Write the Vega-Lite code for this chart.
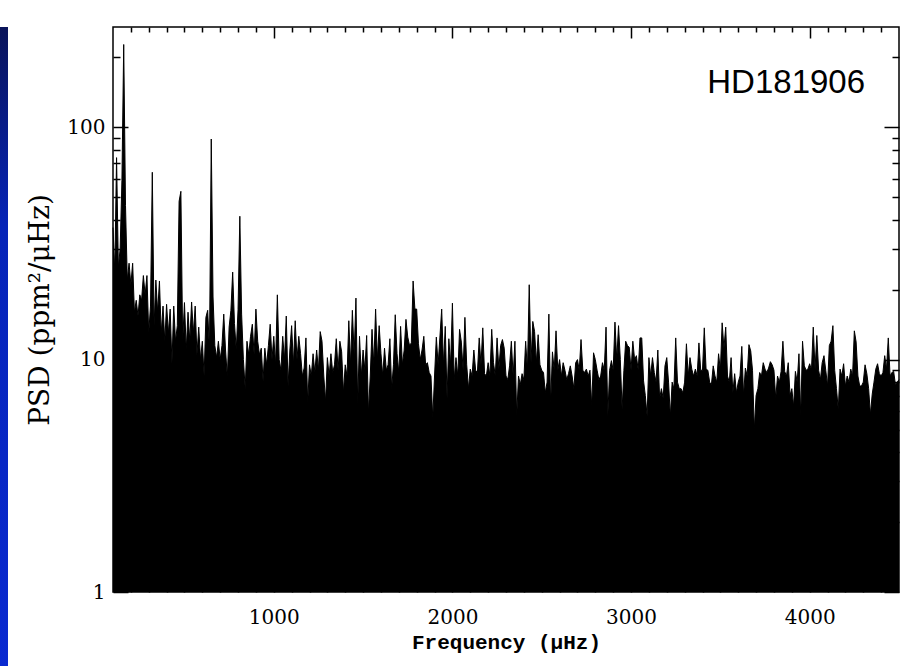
{
"$schema": "https://vega.github.io/schema/vega-lite/v6.json",
"padding": 0,
"background": "white",
"spacing": 18,
"bounds": "full",
"config": {"view": {"stroke": "black", "strokeWidth": 1.5}, "axis": {"grid": false, "domain": false, "tickColor": "black", "tickWidth": 1.5, "labelColor": "black", "titleColor": "black", "labelFont": "DejaVu Serif", "titleFont": "DejaVu Serif", "labelFontSize": 20, "titleFontSize": 20, "titleFontWeight": "normal"}},
"datasets": {"psd": [
{"f":100,"p":37},{"f":110,"p":24},{"f":120,"p":74},{"f":130,"p":25},{"f":140,"p":30},{"f":150,"p":59},{"f":160,"p":227},{"f":170,"p":46},{"f":180,"p":22},{"f":190,"p":26},
{"f":200,"p":21},{"f":210,"p":26},{"f":220,"p":16},{"f":230,"p":18},{"f":240,"p":15.4},{"f":250,"p":19},{"f":260,"p":18},{"f":270,"p":23},{"f":280,"p":19},{"f":290,"p":23},
{"f":300,"p":13},{"f":310,"p":17},{"f":320,"p":64},{"f":330,"p":14},{"f":340,"p":22},{"f":350,"p":16},{"f":360,"p":21.8},{"f":370,"p":13},{"f":380,"p":17},{"f":390,"p":12},
{"f":400,"p":17.3},{"f":410,"p":13},{"f":420,"p":16.5},{"f":430,"p":9.6},{"f":440,"p":17},{"f":450,"p":12},{"f":460,"p":14},{"f":470,"p":48},{"f":480,"p":53},{"f":490,"p":12},
{"f":500,"p":17.6},{"f":510,"p":11},{"f":520,"p":16},{"f":530,"p":12},{"f":540,"p":17.7},{"f":550,"p":13},{"f":560,"p":17},{"f":570,"p":10.5},{"f":580,"p":13.8},{"f":590,"p":10},
{"f":600,"p":12},{"f":610,"p":8.5},{"f":620,"p":15.2},{"f":630,"p":16.3},{"f":640,"p":11},{"f":650,"p":89},{"f":660,"p":18.6},{"f":670,"p":11.5},{"f":680,"p":10.2},{"f":690,"p":12},
{"f":700,"p":10},{"f":710,"p":11.5},{"f":720,"p":15.7},{"f":730,"p":11},{"f":740,"p":8.4},{"f":750,"p":13.8},{"f":760,"p":16.3},{"f":770,"p":23.8},{"f":780,"p":14.3},{"f":790,"p":11},
{"f":800,"p":16.4},{"f":810,"p":41.4},{"f":820,"p":15.7},{"f":830,"p":10},{"f":840,"p":7.5},{"f":850,"p":12},{"f":860,"p":10.5},{"f":870,"p":12.6},{"f":880,"p":14.2},{"f":890,"p":10.5},
{"f":900,"p":16.5},{"f":910,"p":12},{"f":920,"p":10.5},{"f":930,"p":11.2},{"f":940,"p":8.1},{"f":950,"p":11.2},{"f":960,"p":9.5},{"f":970,"p":11.5},{"f":980,"p":14.2},{"f":990,"p":10},
{"f":1000,"p":12.6},{"f":1010,"p":9.5},{"f":1020,"p":19},{"f":1030,"p":10},{"f":1040,"p":9},{"f":1050,"p":12.6},{"f":1060,"p":10},{"f":1070,"p":15.4},{"f":1080,"p":7.7},{"f":1090,"p":11},
{"f":1100,"p":14},{"f":1110,"p":9.5},{"f":1120,"p":14.7},{"f":1130,"p":10},{"f":1140,"p":12.6},{"f":1150,"p":10.6},{"f":1160,"p":8.5},{"f":1170,"p":9.2},{"f":1180,"p":12.4},{"f":1190,"p":6.5},
{"f":1200,"p":9.5},{"f":1210,"p":8.5},{"f":1220,"p":10.6},{"f":1230,"p":8.8},{"f":1240,"p":11},{"f":1250,"p":9},{"f":1260,"p":13.2},{"f":1270,"p":12},{"f":1280,"p":8.5},{"f":1290,"p":6.6},
{"f":1300,"p":10.2},{"f":1310,"p":8.5},{"f":1320,"p":10.6},{"f":1330,"p":8.8},{"f":1340,"p":9.5},{"f":1350,"p":12.3},{"f":1360,"p":9},{"f":1370,"p":12},{"f":1380,"p":10.8},{"f":1390,"p":7.2},
{"f":1400,"p":9.5},{"f":1410,"p":8.5},{"f":1420,"p":14.7},{"f":1430,"p":9.5},{"f":1440,"p":16.3},{"f":1450,"p":10.5},{"f":1460,"p":18.4},{"f":1470,"p":6.4},{"f":1480,"p":12.6},{"f":1490,"p":8.5},
{"f":1500,"p":11},{"f":1510,"p":9},{"f":1520,"p":12.7},{"f":1530,"p":5.9},{"f":1540,"p":8.5},{"f":1550,"p":13.5},{"f":1560,"p":9.5},{"f":1570,"p":16.5},{"f":1580,"p":10},{"f":1590,"p":14},
{"f":1600,"p":10.6},{"f":1610,"p":8.5},{"f":1620,"p":11.2},{"f":1630,"p":9},{"f":1640,"p":9.5},{"f":1650,"p":12.3},{"f":1660,"p":7.5},{"f":1670,"p":9.5},{"f":1680,"p":15.6},{"f":1690,"p":10.6},
{"f":1700,"p":8.8},{"f":1710,"p":13.9},{"f":1720,"p":9.5},{"f":1730,"p":11},{"f":1740,"p":14.9},{"f":1750,"p":12.5},{"f":1760,"p":11.5},{"f":1770,"p":11.8},{"f":1780,"p":21.8},{"f":1790,"p":16.5},
{"f":1800,"p":16.5},{"f":1810,"p":11.7},{"f":1820,"p":10},{"f":1830,"p":11},{"f":1840,"p":12.6},{"f":1850,"p":9.5},{"f":1860,"p":9.7},{"f":1870,"p":8.8},{"f":1880,"p":8.5},{"f":1890,"p":5.6},
{"f":1900,"p":8.5},{"f":1910,"p":12.5},{"f":1920,"p":9.5},{"f":1930,"p":12.5},{"f":1940,"p":16.5},{"f":1950,"p":9.5},{"f":1960,"p":13.9},{"f":1970,"p":6.8},{"f":1980,"p":12.3},{"f":1990,"p":9.5},
{"f":2000,"p":17.5},{"f":2010,"p":8.2},{"f":2020,"p":10.2},{"f":2030,"p":8.5},{"f":2040,"p":13.5},{"f":2050,"p":11.9},{"f":2060,"p":9},{"f":2070,"p":15.2},{"f":2080,"p":9.5},{"f":2090,"p":7.5},
{"f":2100,"p":9.1},{"f":2110,"p":8.5},{"f":2120,"p":11},{"f":2130,"p":9},{"f":2140,"p":8.8},{"f":2150,"p":12.4},{"f":2160,"p":9.5},{"f":2170,"p":13.7},{"f":2180,"p":8.7},{"f":2190,"p":8.5},
{"f":2200,"p":9.7},{"f":2210,"p":8.5},{"f":2220,"p":13.5},{"f":2230,"p":9.7},{"f":2240,"p":8.5},{"f":2250,"p":12.4},{"f":2260,"p":9.1},{"f":2270,"p":11.5},{"f":2280,"p":12.2},{"f":2290,"p":11.2},
{"f":2300,"p":8.5},{"f":2310,"p":8.2},{"f":2320,"p":9.4},{"f":2330,"p":12},{"f":2340,"p":8.5},{"f":2350,"p":12},{"f":2360,"p":5.7},{"f":2370,"p":8.5},{"f":2380,"p":7.8},{"f":2390,"p":8.7},
{"f":2400,"p":8.2},{"f":2410,"p":12},{"f":2420,"p":9},{"f":2430,"p":21},{"f":2440,"p":9.7},{"f":2450,"p":14.6},{"f":2460,"p":13.2},{"f":2470,"p":9.7},{"f":2480,"p":12.8},{"f":2490,"p":9.5},
{"f":2500,"p":9},{"f":2510,"p":8.8},{"f":2520,"p":7.2},{"f":2530,"p":8},{"f":2540,"p":15.7},{"f":2550,"p":6.4},{"f":2560,"p":10.8},{"f":2570,"p":9},{"f":2580,"p":13.3},{"f":2590,"p":9},
{"f":2600,"p":10},{"f":2610,"p":8.5},{"f":2620,"p":9.7},{"f":2630,"p":9},{"f":2640,"p":8.2},{"f":2650,"p":8.7},{"f":2660,"p":9.4},{"f":2670,"p":8.5},{"f":2680,"p":7.5},{"f":2690,"p":9.7},
{"f":2700,"p":10},{"f":2710,"p":9},{"f":2720,"p":12.2},{"f":2730,"p":9},{"f":2740,"p":8.8},{"f":2750,"p":9.1},{"f":2760,"p":8.5},{"f":2770,"p":9},{"f":2780,"p":6.3},{"f":2790,"p":10.7},
{"f":2800,"p":10},{"f":2810,"p":9},{"f":2820,"p":8.2},{"f":2830,"p":8.5},{"f":2840,"p":9.7},{"f":2850,"p":9},{"f":2860,"p":13.8},{"f":2870,"p":5.7},{"f":2880,"p":9},{"f":2890,"p":9.9},
{"f":2900,"p":9},{"f":2910,"p":14.5},{"f":2920,"p":10},{"f":2930,"p":14},{"f":2940,"p":10},{"f":2950,"p":6.1},{"f":2960,"p":9},{"f":2970,"p":12},{"f":2980,"p":11.5},{"f":2990,"p":11.3},
{"f":3000,"p":9},{"f":3010,"p":12},{"f":3020,"p":10},{"f":3030,"p":10.4},{"f":3040,"p":9},{"f":3050,"p":12.4},{"f":3060,"p":12.4},{"f":3070,"p":8.1},{"f":3080,"p":7},{"f":3090,"p":5.7},
{"f":3100,"p":10.2},{"f":3110,"p":8.5},{"f":3120,"p":10.2},{"f":3130,"p":8.8},{"f":3140,"p":8},{"f":3150,"p":11},{"f":3160,"p":6.8},{"f":3170,"p":7.5},{"f":3180,"p":6.8},{"f":3190,"p":9.4},
{"f":3200,"p":10.2},{"f":3210,"p":8},{"f":3220,"p":5.7},{"f":3230,"p":8},{"f":3240,"p":7.5},{"f":3250,"p":12.4},{"f":3260,"p":8},{"f":3270,"p":7.5},{"f":3280,"p":7.5},{"f":3290,"p":7.2},
{"f":3300,"p":8},{"f":3310,"p":11.7},{"f":3320,"p":8.5},{"f":3330,"p":10.2},{"f":3340,"p":9.1},{"f":3350,"p":8.5},{"f":3360,"p":9.1},{"f":3370,"p":8.5},{"f":3380,"p":11.8},{"f":3390,"p":9},
{"f":3400,"p":9},{"f":3410,"p":13.7},{"f":3420,"p":9.1},{"f":3430,"p":9},{"f":3440,"p":8},{"f":3450,"p":7.8},{"f":3460,"p":9.4},{"f":3470,"p":8.5},{"f":3480,"p":8},{"f":3490,"p":10.6},
{"f":3500,"p":9},{"f":3510,"p":14.4},{"f":3520,"p":11.2},{"f":3530,"p":13.8},{"f":3540,"p":8.5},{"f":3550,"p":8},{"f":3560,"p":10.2},{"f":3570,"p":7.2},{"f":3580,"p":8.7},{"f":3590,"p":7.2},
{"f":3600,"p":8},{"f":3610,"p":8.5},{"f":3620,"p":11.4},{"f":3630,"p":7},{"f":3640,"p":9.2},{"f":3650,"p":8.5},{"f":3660,"p":11.6},{"f":3670,"p":10.9},{"f":3680,"p":9},{"f":3690,"p":5},
{"f":3700,"p":7},{"f":3710,"p":7.5},{"f":3720,"p":8.8},{"f":3730,"p":8.5},{"f":3740,"p":9.7},{"f":3750,"p":9.1},{"f":3760,"p":8.8},{"f":3770,"p":9.2},{"f":3780,"p":9.8},{"f":3790,"p":9.5},
{"f":3800,"p":9},{"f":3810,"p":6.8},{"f":3820,"p":8.5},{"f":3830,"p":8},{"f":3840,"p":8.9},{"f":3850,"p":12},{"f":3860,"p":8.9},{"f":3870,"p":8.5},{"f":3880,"p":9.7},{"f":3890,"p":7},
{"f":3900,"p":7.5},{"f":3910,"p":6.3},{"f":3920,"p":8.9},{"f":3930,"p":8},{"f":3940,"p":10.6},{"f":3950,"p":5.7},{"f":3960,"p":12},{"f":3970,"p":9.4},{"f":3980,"p":9},{"f":3990,"p":9.1},
{"f":4000,"p":9.6},{"f":4010,"p":9},{"f":4020,"p":13.8},{"f":4030,"p":9.1},{"f":4040,"p":12.7},{"f":4050,"p":9},{"f":4060,"p":8.2},{"f":4070,"p":9.7},{"f":4080,"p":10.4},{"f":4090,"p":9},
{"f":4100,"p":7.7},{"f":4110,"p":11.5},{"f":4120,"p":12},{"f":4130,"p":14},{"f":4140,"p":9},{"f":4150,"p":7.5},{"f":4160,"p":6.1},{"f":4170,"p":9.1},{"f":4180,"p":8.5},{"f":4190,"p":9.6},
{"f":4200,"p":7.7},{"f":4210,"p":8.5},{"f":4220,"p":8},{"f":4230,"p":9.1},{"f":4240,"p":8.5},{"f":4250,"p":13.3},{"f":4260,"p":11.9},{"f":4270,"p":8.5},{"f":4280,"p":7.7},{"f":4290,"p":7.7},
{"f":4300,"p":8},{"f":4310,"p":9.5},{"f":4320,"p":8.7},{"f":4330,"p":7.5},{"f":4340,"p":5.8},{"f":4350,"p":7.1},{"f":4360,"p":8},{"f":4370,"p":9.1},{"f":4380,"p":9.6},{"f":4390,"p":8.7},
{"f":4400,"p":8.5},{"f":4410,"p":8.8},{"f":4420,"p":10.4},{"f":4430,"p":9.1},{"f":4440,"p":12.4},{"f":4450,"p":8.5},{"f":4460,"p":8.8},{"f":4470,"p":8.9},{"f":4480,"p":7.8},{"f":4490,"p":8},
{"f":4500,"p":8.2}
]},
"hconcat": [
{
"width": 8, "height": 666,
"view": {"stroke": null},
"data": {"values": [{"k": 1}]},
"mark": {"type": "rect", "fill": {"gradient": "linear", "x1": 0, "y1": 0, "x2": 0, "y2": 1, "stops": [{"offset": 0, "color": "#0a145a"}, {"offset": 0.3, "color": "#0624b8"}, {"offset": 1, "color": "#0a2ad2"}]}},
"encoding": {}
},
{
"width": 786, "height": 565,
"title": {"text": " ", "fontSize": 20, "offset": 5},
"resolve": {"axis": {"x": "independent", "y": "independent"}},
"layer": [
{
"data": {"name": "psd"},
"mark": {"type": "area", "color": "black", "interpolate": "linear"},
"encoding": {
"x": {"field": "f", "type": "quantitative", "scale": {"domain": [100, 4500], "nice": false, "zero": false},
"axis": {"orient": "bottom", "values": [1000, 2000, 3000, 4000], "format": "d", "tickSize": -11, "labelPadding": 26, "title": "Frequency (μHz)", "titleFont": "Liberation Mono", "titleFontWeight": "bold", "titleFontSize": 21, "titlePadding": 4}},
"y": {"field": "p", "type": "quantitative", "scale": {"type": "log", "domain": [1, 270], "nice": false},
"axis": {"orient": "left", "values": [1, 10, 100], "format": "d", "tickSize": -15, "labelPadding": 23, "title": "PSD (ppm²/μHz)", "titleFontSize": 28, "titlePadding": 12}},
"y2": {"datum": 1}
}
},
{
"data": {"name": "psd"},
"mark": {"type": "line", "color": "black", "strokeWidth": 1},
"encoding": {
"x": {"field": "f", "type": "quantitative", "axis": {"orient": "top", "values": [1000, 2000, 3000, 4000], "tickSize": -11, "labels": false, "title": null}},
"y": {"field": "p", "type": "quantitative", "axis": {"orient": "right", "values": [1, 10, 100], "tickSize": -15, "labels": false, "title": null}}
}
},
{
"data": {"values": [{"f": 100, "p": 1}]},
"mark": {"type": "point", "opacity": 0},
"encoding": {
"x": {"field": "f", "type": "quantitative", "axis": {"orient": "bottom", "values": [200,300,400,500,600,700,800,900,1100,1200,1300,1400,1500,1600,1700,1800,1900,2100,2200,2300,2400,2500,2600,2700,2800,2900,3100,3200,3300,3400,3500,3600,3700,3800,3900,4100,4200,4300,4400], "tickSize": -5, "labels": false, "title": null}},
"y": {"field": "p", "type": "quantitative", "axis": {"orient": "left", "values": [2,3,4,5,6,7,8,9,20,30,40,50,60,70,80,90,200], "tickSize": -7, "labels": false, "title": null}}
}
},
{
"data": {"values": [{"f": 100, "p": 1}]},
"mark": {"type": "point", "opacity": 0},
"encoding": {
"x": {"field": "f", "type": "quantitative", "axis": {"orient": "top", "values": [200,300,400,500,600,700,800,900,1100,1200,1300,1400,1500,1600,1700,1800,1900,2100,2200,2300,2400,2500,2600,2700,2800,2900,3100,3200,3300,3400,3500,3600,3700,3800,3900,4100,4200,4300,4400], "tickSize": -5, "labels": false, "title": null}},
"y": {"field": "p", "type": "quantitative", "axis": {"orient": "right", "values": [2,3,4,5,6,7,8,9,20,30,40,50,60,70,80,90,200], "tickSize": -7, "labels": false, "title": null}}
}
},
{
"data": {"values": [{"t": "HD181906"}]},
"mark": {"type": "text", "font": "Liberation Sans", "fontSize": 33, "align": "right", "baseline": "alphabetic", "color": "black"},
"encoding": {
"text": {"field": "t"},
"x": {"datum": 4310, "type": "quantitative", "axis": null},
"y": {"datum": 141, "type": "quantitative", "axis": null}
}
}
]
}
]
}
